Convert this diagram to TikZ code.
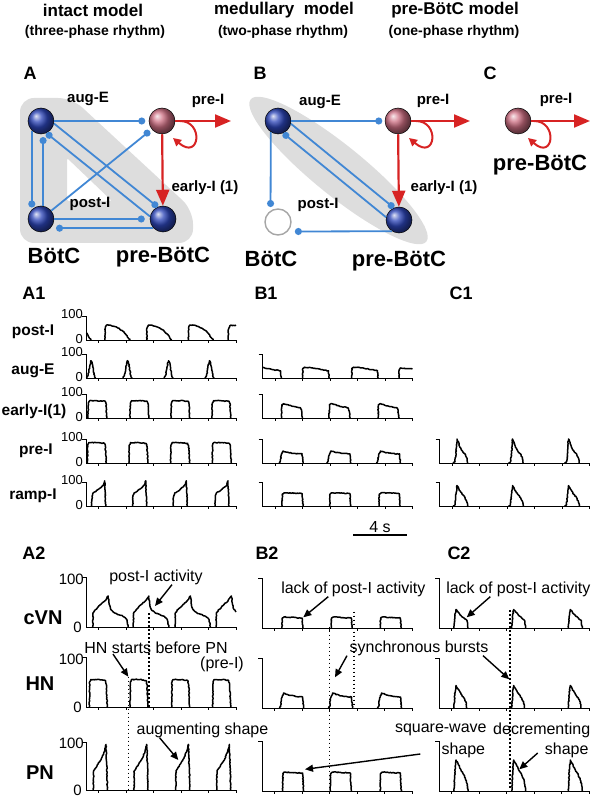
\documentclass[tikz,border=0pt]{standalone}
\usepackage{fontspec}
\setmainfont{Liberation Sans}
\usetikzlibrary{arrows.meta,shapes.geometric,calc,backgrounds,decorations.pathmorphing}
\definecolor{nodeblue}{RGB}{45,70,185}
\definecolor{nodepink}{RGB}{205,110,130}
\definecolor{connblue}{RGB}{65,135,212}
\definecolor{excred}{RGB}{215,35,35}
\definecolor{bggray}{RGB}{221,221,221}
\newcommand{\fsz}[1]{\fontsize{#1}{#1}\selectfont}
% axis of one trace row (x in px, y in units of 100 %)
\newcommand{\traceaxis}{%
  \draw[axisln] (-4,1) -- (0,1) -- (0,0) -- (150,0);
  \foreach \k in {0,...,5} \draw[axisln] (12.5+27.5*\k,0) -- ++(0pt,-3pt);}
\tikzset
    {
        sph/.style = {circle, draw=black, line width=0.5pt, minimum size=26pt, inner sep=0pt},
        bluesph/.style = {sph, ball color=nodeblue},
        pinksph/.style = {sph, ball color=nodepink},
        emptysph/.style = {circle, draw=gray!70, line width=1.4pt, fill=white, minimum size=26pt, inner sep=0pt},
        inh/.style = {draw=connblue, line width=1.8pt, -{Circle[length=7pt]}},
        exc/.style = {draw=excred, line width=2.2pt, -{Triangle[length=16pt,width=13pt]}},
        selfloop/.style = {draw=excred, line width=2pt, -{Triangle[length=8pt,width=8pt]}},
        title/.style = {font=\fsz{17}\bfseries, inner sep=0pt},
        subtitle/.style = {font=\fsz{14}\bfseries, inner sep=0pt},
        panel/.style = {font=\fsz{18}\bfseries, inner sep=0pt},
        ntxt/.style = {font=\fsz{15}\bfseries, inner sep=0pt},
        areatxt/.style = {font=\fsz{22}\bfseries, inner sep=0pt},
        rowtxt/.style = {font=\fsz{15.5}\bfseries, inner sep=0pt},
        nervetxt/.style = {font=\fsz{20}\bfseries, inner sep=0pt},
        ticktxt/.style = {font=\fsz{13}, inner sep=0pt, anchor=east},
        bigtick/.style = {font=\fsz{15}, inner sep=0pt, anchor=east},
        note/.style = {font=\fsz{16}, inner sep=0pt},
        axisln/.style = {line width=1pt},
        trace/.style = {line width=1.5pt, line join=round, decorate,
                        decoration={random steps, segment length=1.2pt, amplitude=0.4pt}},
        callout/.style = {line width=1.4pt, -{Triangle[length=8pt,width=7pt]}},
        marker/.style = {line width=1.4pt, dash pattern=on 1.5pt off 2.5pt}
    }

\begin{document}
\pgfmathsetseed{7}
\begin{tikzpicture}[x=1pt, y=-1pt]
\useasboundingbox (0,0) rectangle (593,799);

% headings
\node[title] (tIntact) at (93,10) {intact model};
\node[subtitle] (sIntact) at (95,32) {(three-phase rhythm)};
\node[title] (tMedul) at (284,10) {medullary~ model};
\node[subtitle] (sMedul) at (283,32) {(two-phase rhythm)};
\node[title] (tPre) at (455,10) {pre-BötC model};
\node[subtitle] (sPre) at (454,32) {(one-phase rhythm)};

% panel A: intact model
\node[panel] (lA) at (30,73) {A};
\node[bluesph] (augEa) at (41,121) {};
\node[pinksph] (preIa) at (162,121) {};
\node[bluesph] (botca) at (41,219) {};
\node[bluesph] (prebotca) at (163,219) {};
\coordinate (outa) at (231,121);
\begin{scope}[on background layer]
\fill[bggray, even odd rule] [rounded corners=14pt] (20,98) -- (72,98) -- (193,210) -- (193,243) -- (20,243) -- cycle
    [rounded corners=2pt] (67,158) -- (67,201) -- (112,201) -- cycle;
\end{scope}
\draw[inh, shorten >=3.5pt] (augEa) -- (preIa);
\draw[inh, shorten >=2pt] (augEa.226) -- (botca.134);
\draw[inh, shorten >=3pt] (botca.81) -- (augEa.279);
\draw[inh] (augEa.-11) -- (prebotca.114);
\draw[inh] (prebotca.169) -- (augEa.-66);
\draw[inh, shorten >=2.5pt] (botca) -- (preIa);
\draw[inh, shorten >=5pt] (botca) -- (prebotca);
\draw[inh, shorten >=5.5pt] (prebotca.-136) -- (botca.-44);
\draw[exc] (preIa) -- (outa);
\draw[exc] (preIa) -- (prebotca);
\draw[selfloop] ($(preIa)+(18,0)$) .. controls ($(preIa)+(42,0)$) and ($(preIa)+(38,40)$) .. ($(preIa)+(11,17)$);
\node[ntxt] (taugEa) at (88,99) {aug-E};
\node[ntxt] (tpreIa) at (208,101) {pre-I};
\node[ntxt] (tearlya) at (205,188) {early-I (1)};
\node[ntxt] (tpostIa) at (90,204) {post-I};
\node[areatxt] (tbotca) at (54,256) {BötC};
\node[areatxt] (tprebotca) at (163,257) {pre-BötC};

% panel B: medullary model
\node[panel] (lB) at (260,73) {B};
\node[bluesph] (augEb) at (278,121) {};
\node[pinksph] (preIb) at (398,121) {};
\node[emptysph] (botcb) at (278,222) {};
\node[bluesph] (prebotcb) at (399,220) {};
\coordinate (outb) at (470,121);
\begin{scope}[on background layer]
\node[ellipse, fill=bggray, inner sep=0pt, minimum width=226pt, minimum height=50pt, rotate=-39]
    (ovalb) at ($(augEb)!0.5!(prebotcb)$) {};
\end{scope}
\draw[inh, shorten >=2.5pt] (augEb) -- (preIb);
\draw[inh, shorten >=3.5pt] (augEb.237) -- (botcb.123);
\draw[inh] (augEb.-12) -- (prebotcb.113);
\draw[inh] (prebotcb.168) -- (augEb.-67);
\draw[inh, shorten >=7pt] (prebotcb.-122) -- (botcb.-44);
\draw[exc] (preIb) -- (outb);
\draw[exc] (preIb) -- (prebotcb);
\draw[selfloop] ($(preIb)+(18,0)$) .. controls ($(preIb)+(42,0)$) and ($(preIb)+(38,40)$) .. ($(preIb)+(11,17)$);
\node[ntxt] (taugEb) at (320,102) {aug-E};
\node[ntxt] (tpreIb) at (433,101) {pre-I};
\node[ntxt] (tearlyb) at (444,188) {early-I (1)};
\node[ntxt] (tpostIb) at (318,205) {post-I};
\node[areatxt] (tbotcb) at (271,259) {BötC};
\node[areatxt] (tprebotcb) at (399,261) {pre-BötC};

% panel C: pre-BotC model
\node[panel] (lC) at (490,73) {C};
\node[pinksph] (preIc) at (518,121) {};
\coordinate (outc) at (590,121);
\draw[exc] (preIc) -- (outc);
\draw[selfloop] ($(preIc)+(16,0)$) .. controls ($(preIc)+(40,0)$) and ($(preIc)+(36,40)$) .. ($(preIc)+(10,17)$);
\node[ntxt] (tpreIc) at (556,100) {pre-I};
\node[areatxt] (tprebotcc) at (540,165) {pre-BötC};

% A1 / B1 / C1: neuron activity
\node[panel] (lA1) at (34,293) {A1};
\node[panel] (lB1) at (266,293) {B1};
\node[panel] (lC1) at (461,293) {C1};
\node[rowtxt] (rpostI) at (33,332) {post-I};
\node[rowtxt] (raugE) at (33,371) {aug-E};
\node[rowtxt] (rearly) at (34,411) {early-I(1)};
\node[rowtxt] (rpreI) at (36,451) {pre-I};
\node[rowtxt] (rrampI) at (33,496) {ramp-I};
\node[ticktxt] (hA1a) at (83,314) {100};
\node[ticktxt] (zA1a) at (83,339) {0};
\node[ticktxt] (hA1b) at (83,352) {100};
\node[ticktxt] (zA1b) at (83,377) {0};
\node[ticktxt] (hA1c) at (83,392) {100};
\node[ticktxt] (zA1c) at (83,417) {0};
\node[ticktxt] (hA1d) at (83,437) {100};
\node[ticktxt] (zA1d) at (83,462) {0};
\node[ticktxt] (hA1e) at (83,480) {100};
\node[ticktxt] (zA1e) at (83,505) {0};

\begin{scope}[shift={(86,340)}, y=24pt]
\traceaxis
\draw[trace] (0.5,0.3) -- (2,0.2) -- (3.5,0.07) -- (5,0);
\foreach \s in {19,60.7,102.3}
  \draw[trace] (\s,0) -- (\s+0.3,0.5) -- (\s+1.5,0.62) -- (\s+5,0.62) -- (\s+9,0.57) -- (\s+13,0.5) -- (\s+17,0.4) -- (\s+20.5,0.25) -- (\s+23,0.1) -- (\s+25,0);
\draw[trace] (142.3,0) -- (142.5,0.45) -- (144,0.6) -- (150,0.62);
\end{scope}
\begin{scope}[shift={(86,378)}, y=24pt]
\traceaxis
\foreach \s in {0.5,37,78,119}
  \draw[trace] (\s,0) -- (\s+1.5,0.1) -- (\s+3,0.45) -- (\s+4.5,0.72) -- (\s+5.5,0.66) -- (\s+7,0.3) -- (\s+8,0.05) -- (\s+9,0);
\end{scope}
\begin{scope}[shift={(86,418)}, y=24pt]
\traceaxis
\foreach \s in {2,44,85,126}
  \draw[trace] (\s,0) -- (\s+0.3,0.6) -- (\s+1.5,0.72) -- (\s+9,0.72) -- (\s+17,0.7) -- (\s+18,0.6) -- (\s+18.8,0);
\end{scope}
\begin{scope}[shift={(86,463)}, y=24pt]
\traceaxis
\foreach \s in {1.3,43,84.7,126.3}
  \draw[trace] (\s,0) -- (\s+0.3,0.75) -- (\s+1.5,0.85) -- (\s+10,0.85) -- (\s+17,0.82) -- (\s+18,0.7) -- (\s+19,0);
\end{scope}
\begin{scope}[shift={(86,506)}, y=24pt]
\traceaxis
\foreach \s in {5.7,46.7,87.3,129}
  \draw[trace] (\s,0) -- (\s+0.3,0.4) -- (\s+1.5,0.55) -- (\s+4,0.6) -- (\s+7,0.7) -- (\s+10,0.8) -- (\s+12,0.9) -- (\s+13,1.05) -- (\s+14,0);
\end{scope}

\begin{scope}[shift={(262.5,378)}, y=24pt]
\traceaxis
\draw[trace] (0.3,0.45) -- (3,0.4) -- (10,0.35) -- (18,0.3) -- (19,0);
\foreach \s in {40,89}
  \draw[trace] (\s,0) -- (\s+0.3,0.4) -- (\s+2,0.45) -- (\s+10,0.42) -- (\s+20,0.35) -- (\s+26,0.3) -- (\s+26.6,0);
\draw[trace] (136.6,0) -- (136.8,0.35) -- (138,0.42) -- (150,0.38);
\end{scope}
\begin{scope}[shift={(262.5,418)}, y=24pt]
\traceaxis
\foreach \s in {19,66.6,115.6}
  \draw[trace] (\s,0) -- (\s+0.3,0.55) -- (\s+2,0.6) -- (\s+10,0.5) -- (\s+19,0.42) -- (\s+20,0.3) -- (\s+21,0);
\end{scope}
\begin{scope}[shift={(262.5,463)}, y=24pt]
\traceaxis
\foreach \s in {16.6,64.3,114}
  \draw[trace] (\s,0) -- (\s+1,0.05) -- (\s+2,0.3) -- (\s+4,0.5) -- (\s+8,0.45) -- (\s+15,0.4) -- (\s+23,0.38) -- (\s+24,0);
\end{scope}
\begin{scope}[shift={(262.5,506)}, y=24pt]
\traceaxis
\foreach \s in {19.6,67.3,116.6}
  \draw[trace] (\s,0) -- (\s+0.3,0.5) -- (\s+2,0.55) -- (\s+20,0.52) -- (\s+21,0);
\end{scope}

\begin{scope}[shift={(439.5,463)}, y=24pt]
\traceaxis
\foreach \s in {15.5,71,127}
  \draw[trace] (\s-2,0) -- (\s,0.05) -- (\s+1,0.4) -- (\s+2,1) -- (\s+3,0.9) -- (\s+5,0.65) -- (\s+8,0.45) -- (\s+10,0.38) -- (\s+12,0.2) -- (\s+12.7,0);
\end{scope}
\begin{scope}[shift={(439.5,506)}, y=24pt]
\traceaxis
\foreach \s in {15.5,71,127}
  \draw[trace] (\s-2,0) -- (\s,0.05) -- (\s+1,0.5) -- (\s+2,0.85) -- (\s+4,0.7) -- (\s+7,0.5) -- (\s+10,0.35) -- (\s+12.5,0.1) -- (\s+13,0);
\end{scope}

% time bar
\node[note] (tbar) at (380,527) {4 s};
\coordinate (barL) at (353,535);
\coordinate (barR) at (407,535);
\draw[line width=1.5pt] (barL) -- (barR);

% A2 / B2 / C2: nerve activity
\node[panel] (lA2) at (34,553) {A2};
\node[panel] (lB2) at (267,553) {B2};
\node[panel] (lC2) at (459,553) {C2};
\node[nervetxt] (rcVN) at (43,618) {cVN};
\node[nervetxt] (rHN) at (40,684) {HN};
\node[nervetxt] (rPN) at (40,773) {PN};
\node[bigtick] (hA2a) at (84,579) {100};
\node[bigtick] (zA2a) at (82,627) {0};
\node[bigtick] (hA2b) at (84,659) {100};
\node[bigtick] (zA2b) at (82,707) {0};
\node[bigtick] (hA2c) at (84,743) {100};
\node[bigtick] (zA2c) at (82,790) {0};

\begin{scope}[shift={(86,627)}, y=50pt]
\traceaxis
\foreach \s in {6.7,47.3,89}
  \draw[trace] (\s,0) -- (\s+0.3,0.28) -- (\s+3,0.35) -- (\s+8,0.45) -- (\s+12,0.52) -- (\s+15.5,0.62) -- (\s+16.5,0.45) -- (\s+18,0.35) -- (\s+22,0.28) -- (\s+30,0.22) -- (\s+34,0.15) -- (\s+35.5,0);
\draw[trace] (130,0) -- (130.3,0.28) -- (133,0.35) -- (138,0.45) -- (142,0.52) -- (145.5,0.62) -- (146.5,0.45) -- (148,0.35) -- (150,0.3);
\end{scope}
\begin{scope}[shift={(86,707)}, y=50pt]
\traceaxis
\foreach \s in {3.3,44,85.7,126.7}
  \draw[trace] (\s,0) -- (\s+0.3,0.5) -- (\s+1.5,0.55) -- (\s+10,0.55) -- (\s+16,0.53) -- (\s+17,0.45) -- (\s+18,0);
\end{scope}
\begin{scope}[shift={(86,790)}, y=48pt]
\traceaxis
\foreach \s in {7.3,48,89.7,130.7}
  \draw[trace] (\s,0) -- (\s+0.3,0.4) -- (\s+2,0.45) -- (\s+5,0.55) -- (\s+8,0.65) -- (\s+11,0.8) -- (\s+12.7,0.95) -- (\s+13.5,0.5) -- (\s+14,0);
\end{scope}

\begin{scope}[shift={(262,628)}, y=50pt]
\traceaxis
\foreach \s in {20,69.3,118.3}
  \draw[trace] (\s,0) -- (\s+0.3,0.2) -- (\s+2,0.22) -- (\s+20,0.2) -- (\s+21,0);
\end{scope}
\begin{scope}[shift={(262,708)}, y=50pt]
\traceaxis
\foreach \s in {17.6,66.6,115.6}
  \draw[trace] (\s,0) -- (\s+1,0.03) -- (\s+2,0.2) -- (\s+4,0.3) -- (\s+8,0.27) -- (\s+16,0.23) -- (\s+23,0.22) -- (\s+24,0);
\end{scope}
\begin{scope}[shift={(262,791)}, y=50pt]
\traceaxis
\foreach \s in {20.6,68.3,118.3}
  \draw[trace] (\s,0) -- (\s+0.3,0.35) -- (\s+2,0.38) -- (\s+20,0.36) -- (\s+21,0);
\end{scope}

\begin{scope}[shift={(439,628)}, y=50pt]
\traceaxis
\foreach \s in {15,72.7,129.3}
  \draw[trace] (\s,0) -- (\s+1,0.25) -- (\s+2,0.37) -- (\s+4,0.32) -- (\s+7,0.25) -- (\s+10,0.2) -- (\s+13,0.15) -- (\s+14,0);
\end{scope}
\begin{scope}[shift={(439,708)}, y=50pt]
\traceaxis
\foreach \s in {15,72.7,129.3}
  \draw[trace] (\s,0) -- (\s+1,0.3) -- (\s+2,0.45) -- (\s+4,0.38) -- (\s+7,0.28) -- (\s+10,0.2) -- (\s+12,0.12) -- (\s+12.7,0);
\end{scope}
\begin{scope}[shift={(439,791)}, y=50pt]
\traceaxis
\foreach \s in {15,72.7,129.3}
  \draw[trace] (\s,0) -- (\s+1,0.4) -- (\s+2,0.62) -- (\s+4,0.55) -- (\s+7,0.42) -- (\s+10,0.32) -- (\s+12.5,0.2) -- (\s+14,0);
\end{scope}

% notes and markers
\node[note] (postact) at (156,577) {post-I activity};
\coordinate (pA) at (155,606);
\draw[callout] ([xshift=16pt]postact.south) -- (pA);
\node[note] (hnstart) at (156,648) {HN starts before PN};
\node[note] (hnpre) at (222,664) {(pre-I)};
\coordinate (pB) at (128.3,676.7);
\draw[callout] ([xshift=-43pt]hnstart.south) -- (pB);
\node[note] (augshape) at (202.5,730) {augmenting shape};
\coordinate (pC) at (178.3,760);
\draw[callout] ([xshift=-43pt]augshape.south) -- (pC);
\coordinate (dA1) at (128.3,790);
\coordinate (dA2) at (149,613);
\coordinate (dA3) at (149,707);
\draw[marker] (pB) -- (dA1);
\draw[marker] (dA2) -- (dA3);

\node[note] (lackb) at (353.3,589) {lack of post-I activity};
\coordinate (pD) at (303.3,617.3);
\draw[callout] ([xshift=-25pt]lackb.south) -- (pD);
\node[note] (syncb) at (419,648) {synchronous bursts};
\coordinate (pE) at (335,677.3);
\coordinate (pF) at (509.3,679.3);
\draw[callout] ([xshift=-72pt]syncb.south) -- (pE);
\draw[callout] ([xshift=64pt]syncb.south) -- (pF);
\node[note] (sqwave) at (440.8,730) {square-wave};
\node[note] (sqshape) at (463.3,750) {shape};
\coordinate (pG) at (305,769.3);
\draw[callout] ([shift={(-21,4)}]sqshape.west) -- (pG);
\coordinate (dB1) at (354,611.7);
\coordinate (dB2) at (354,708.3);
\coordinate (dB3) at (329.3,626.7);
\coordinate (dB4) at (329.3,793);
\draw[marker] (dB1) -- (dB2);
\draw[marker] (dB3) -- (dB4);

\node[note] (lackc) at (518.3,589) {lack of post-I activity};
\coordinate (pH) at (466.7,617.3);
\draw[callout] ([xshift=-28pt]lackc.south) -- (pH);
\node[note] (decr) at (541.7,730) {decrementing};
\node[note] (decshape) at (566.7,750) {shape};
\coordinate (pI) at (519.3,769.3);
\draw[callout] ([shift={(-7,3)}]decshape.west) -- (pI);
\coordinate (dC1) at (510,610);
\coordinate (dC2) at (510,790);
\draw[marker] (dC1) -- (dC2);
\end{tikzpicture}
\end{document}
